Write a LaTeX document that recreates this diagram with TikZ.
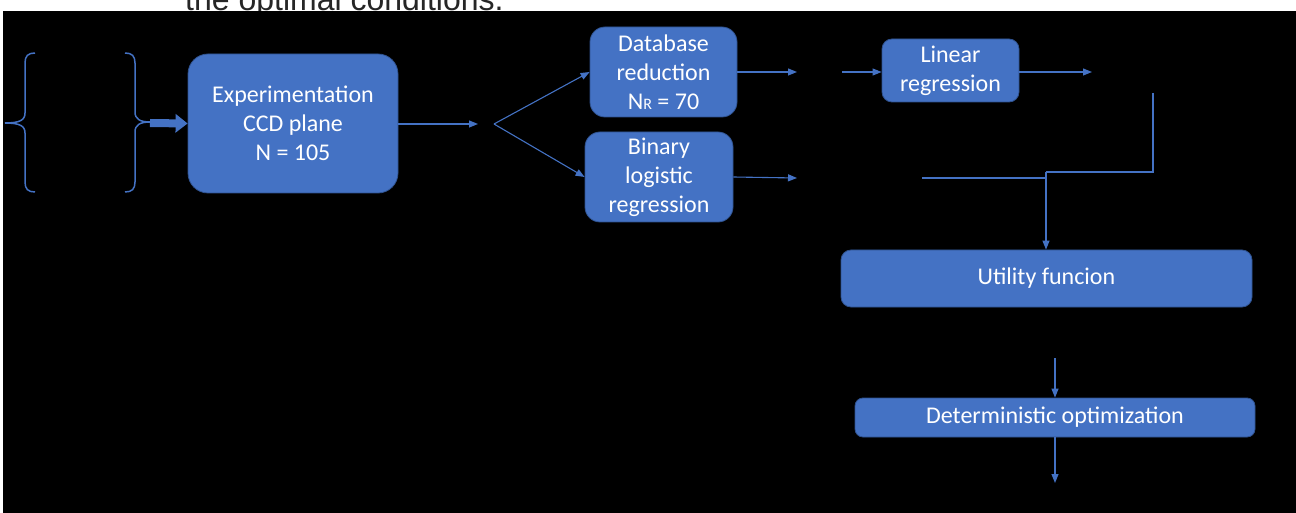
\documentclass[tikz,border=0pt]{standalone}
\usepackage{fontspec}
\setmainfont{Carlito}
\newfontfamily\captionfont{Liberation Sans}
\usetikzlibrary{
	positioning				% Allows relative placement
	, arrows.meta			% Allows the small triangle tips
	, calc
}
\definecolor{boxblue}{HTML}{4472C4}
\definecolor{boxedge}{HTML}{2F528F}

\begin{document}
\begin{tikzpicture}[
				x=1pt, y=-1pt,
				element/.style={
					rectangle,
					rounded corners=12pt,
					fill=boxblue,
					draw=boxedge, line width=0.8pt,
					text=white,
					align=center,
					inner sep=0pt,
					font=\fontsize{24}{29}\selectfont
				},
				arrow/.style={
					-{Triangle[length=9pt, width=7pt]},
					draw=boxblue,
					line width=1.1pt
				},
				link/.style={
					draw=boxblue,
					line width=1.1pt
				},
				fatarrow/.style={
					-{Triangle[length=12pt, width=18pt]},
					draw=boxblue,
					line width=8pt
				},
				bracket/.style={
					draw=boxblue,
					line width=1.5pt
				}]

			%%% Page, black panel and the cut caption above it
			\useasboundingbox (0,0) rectangle (1296,513);
			\clip (0,0) rectangle (1296,513);
			\fill[white] (0,0) rectangle (1296,513);
			\node [anchor=base west, inner sep=0pt, text=black!85,
				font=\captionfont\fontsize{32}{38}\selectfont] (caption) at (185,10.5) {the optimal conditions.};
			\fill[black] (3,11) rectangle (1296,513);

			%%% The two braces
			\draw [bracket] (35,53) .. controls (28,53) and (25,56) .. (25,63) -- (25,113)
				.. controls (25,120) and (20,123) .. (5,123)
				.. controls (20,123) and (25,126) .. (25,133) -- (25,182)
				.. controls (25,189) and (28,192) .. (35,192);
			\draw [bracket] (125,53) .. controls (132,53) and (135,56) .. (135,63) -- (135,112)
				.. controls (135,119) and (140,122) .. (150,122)
				.. controls (140,122) and (135,125) .. (135,132) -- (135,182)
				.. controls (135,189) and (132,192) .. (125,192);
			\coordinate (braceTip) at (150,123);

			%%% Boxes
			\node [element, rounded corners=20pt, minimum width=210pt, minimum height=139pt] (compExperiment) at (293,123.5) {Experimentation\\CCD plane\\N = 105};
			\node [element, rounded corners=15pt, minimum width=147pt, minimum height=90pt] (compDatabase) at (663.5,72) {Database\\reduction\\N{\fontsize{16}{16}\selectfont R} = 70};
			\node [element, rounded corners=15pt, minimum width=148pt, minimum height=90pt] (compBinary) at (659,177) {Binary\\logistic\\regression};
			\node [element, rounded corners=10pt, minimum width=137pt, minimum height=63pt] (compLinear) at (950.5,70.5) {Linear\\regression};
			\node [element, rounded corners=10pt, minimum width=411pt, minimum height=57pt] (compUtility) at (1046.5,278.5) {Utility funcion};
			\node [element, rounded corners=8pt, minimum width=400pt, minimum height=39pt] (compOptimize) at (1055,417.5) {Deterministic optimization};

			%%% Free ends of the connectors
			\coordinate (expEnd) at (478,124);
			\coordinate (fork) at (494,124);
			\coordinate (dbEnd) at (797,72);
			\coordinate (linStart) at (842,72);
			\coordinate (linEnd) at (1092,72);
			\coordinate (binEnd) at (797,178);
			\coordinate (binStart) at (922,178);
			\coordinate (drop) at (1153,93);
			\coordinate (corner) at (1153,172);
			\coordinate (joint) at (1046,172);
			\coordinate (utilStart) at (1055,358);
			\coordinate (optEnd) at (1055,483);

			%%% Connectors
			\draw [fatarrow] (braceTip) -- (compExperiment.west);
			\draw [arrow] (compExperiment.east |- expEnd) -- (expEnd);
			\draw [arrow] (fork) -- (compDatabase.west);
			\draw [arrow] (fork) -- (compBinary.west);
			\draw [arrow] (compDatabase.east) -- (dbEnd);
			\draw [arrow] (linStart) -- (compLinear.west |- linStart);
			\draw [arrow] (compLinear.east |- linEnd) -- (linEnd);
			\draw [arrow] (compBinary.east) -- (binEnd);
			\draw [link] (drop) -- (corner) -- (joint);
			\draw [link] (binStart) -- (joint |- binStart);
			\draw [arrow] (joint) -- (compUtility.north -| joint);
			\draw [arrow] (utilStart) -- (compOptimize.north);
			\draw [arrow] (compOptimize.south) -- (optEnd);

		\end{tikzpicture}
\end{document}
